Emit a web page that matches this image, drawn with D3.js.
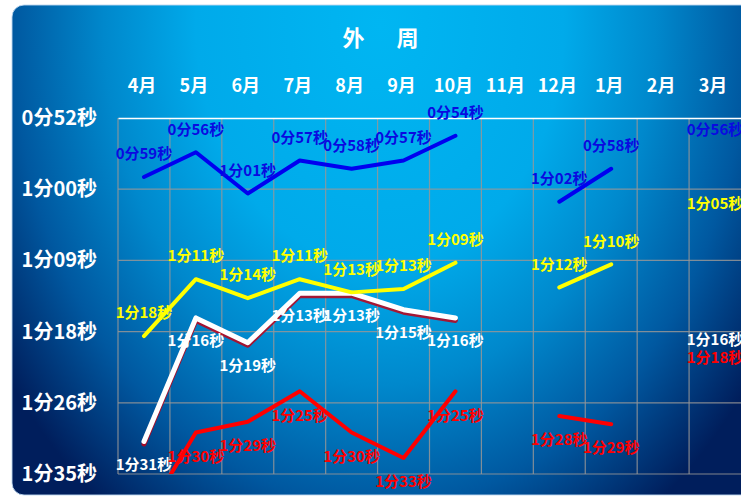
<!DOCTYPE html>
<html>
<head>
<meta charset="utf-8">
<script src="https://cdn.jsdelivr.net/npm/d3@7"></script>
<style>
html,body{margin:0;padding:0;background:#fff;}
svg{display:block;}
</style>
</head>
<body>
<svg id="chart" width="741" height="497"></svg>
<script>
// ---- data ----
const title = "外　周";
const months = ["4月","5月","6月","7月","8月","9月","10月","11月","12月","1月","2月","3月"];
// seconds per lap (null = no record)
const blueSeries   = [59, 56, 61, 57, 58, 57, 54, null, 62, 58, null, 56];
const yellowSeries = [78.3, 71.4, 73.7, 71.4, 73.0, 72.6, 69.4, null, 72.4, 69.6, null, 65];
const whiteSeries  = [91.1, 76.1, 79.1, 73.1, 73.1, 75.1, 76.1, null, null, null, null, 76];
const redSeries    = [100.5, 90.0, 88.7, 85.0, 90.0, 93.1, 85.0, null, 88.0, 89.0, null, 78];
// axis: 0.0006 .. 0.0011 day, step 0.0001 day (8.64 s)
const yMin = 51.84, yMax = 95.04, yStep = 8.64;
const yTicks = d3.range(0, 6).map(i => yMin + i * yStep);

// ---- helpers ----
const fmt = v => { const s = Math.round(v); return Math.floor(s/60) + "分" + String(s%60).padStart(2,"0") + "秒"; };

const svg = d3.select("#chart");
const plot = {x0: 118, x1: 741, y0: 118, y1: 474};

const defs = svg.append("defs");
const rg = defs.append("radialGradient").attr("id","bg")
  .attr("gradientUnits","userSpaceOnUse").attr("cx",0).attr("cy",0).attr("r",1)
  .attr("gradientTransform","translate(380,25) scale(460,600)");
[[0,"#00b6f2"],[0.4,"#00aaea"],[0.6,"#0088cc"],[0.8,"#0058a0"],[1,"#001e5c"]]
  .forEach(([o,c]) => rg.append("stop").attr("offset",o).attr("stop-color",c));
defs.append("clipPath").attr("id","plotclip").append("rect")
  .attr("x",plot.x0).attr("y",plot.y0).attr("width",plot.x1-plot.x0).attr("height",plot.y1-plot.y0);

// frame
svg.append("rect").attr("x",12).attr("y",5).attr("width",760).attr("height",490).attr("rx",12)
  .attr("fill","url(#bg)").attr("stroke","rgba(190,215,240,0.9)").attr("stroke-width",1);

// scales
const x = d3.scaleBand().domain(months).range([plot.x0, plot.x1]).padding(0);
const cx = m => x(m) + x.bandwidth()/2;
const y = d3.scaleLinear().domain([yMin, yMax]).range([plot.y0, plot.y1]);

const font = "'Noto Sans CJK SC','Noto Sans',sans-serif";

// grid
const gGrid = svg.append("g");
gGrid.selectAll("line.h").data(yTicks.slice(1)).join("line")
  .attr("x1",plot.x0).attr("x2",plot.x1).attr("y1",d=>y(d)).attr("y2",d=>y(d))
  .attr("stroke","rgba(150,150,150,0.85)").attr("stroke-width",1.2);
gGrid.selectAll("line.v").data(months).join("line")
  .attr("x1",d=>x(d)).attr("x2",d=>x(d)).attr("y1",plot.y0).attr("y2",plot.y1)
  .attr("stroke","rgba(150,150,150,0.85)").attr("stroke-width",1.2);

// category axis at top (value axis reversed)
const xAxis = svg.append("g").attr("transform",`translate(0,${plot.y0})`)
  .call(d3.axisTop(x).tickSize(0).tickPadding(0));
xAxis.select(".domain").attr("stroke","#ffffff").attr("stroke-width",1.5);
xAxis.selectAll(".tick text").attr("y",-32).attr("dy","0.35em").attr("dx",-2)
  .attr("fill","#fff").attr("font-family",font).attr("font-weight","bold").attr("font-size",18);

// value axis
const yAxis = svg.append("g").attr("transform",`translate(${plot.x0},0)`)
  .call(d3.axisLeft(y).tickValues(yTicks).tickFormat(fmt).tickSize(0).tickPadding(21));
yAxis.select(".domain").remove();
yAxis.selectAll(".tick text").attr("fill","#fff").attr("font-family",font)
  .attr("font-weight","bold").attr("font-size",20);

// title
svg.append("text").attr("x",383).attr("y",38).attr("dy","0.35em").attr("text-anchor","middle")
  .attr("fill","#fff").attr("font-family",font).attr("font-weight","bold").attr("font-size",22)
  .attr("letter-spacing",5).text(title);

// series
const series = [
  {name:"white", data:whiteSeries, color:"#ffffff", label:"#ffffff", w:5, dy:23, shadow:"#c00018"},
  {name:"red", data:redSeries, color:"#ff0000", label:"#ff0000", w:4, dy:24},
  {name:"blue", data:blueSeries, color:"#0000f0", label:"#0a0ae0", w:4, dy:-23},
  {name:"yellow", data:yellowSeries, color:"#ffff00", label:"#ffff00", w:4, dy:-23},
];
// a point is part of a drawn segment only if a neighbour exists (no markers on isolated points)
const linkable = (arr, i) => arr[i] != null && ((i > 0 && arr[i-1] != null) || (i < arr.length-1 && arr[i+1] != null));
const line = d3.line().defined(d => d.draw).x(d => cx(d.m)).y(d => y(d.v));
const gLines = svg.append("g").attr("clip-path","url(#plotclip)");
series.forEach(s => {
  const pts = months.map((m,i) => ({m, v: s.data[i], draw: linkable(s.data, i)}));
  if (s.shadow) {
    gLines.append("path").datum(pts).attr("d",line).attr("fill","none")
      .attr("stroke",s.shadow).attr("stroke-width",s.w).attr("stroke-linecap","round")
      .attr("stroke-linejoin","round").attr("transform","translate(0,2.5)").attr("opacity",0.85);
  }
  gLines.append("path").datum(pts).attr("d",line).attr("fill","none")
    .attr("stroke",s.color).attr("stroke-width",s.w).attr("stroke-linecap","round")
    .attr("stroke-linejoin","round");
});
// labels (points outside the axis range get none)
const gLabels = svg.append("g");
series.forEach(s => {
  const pts = months.map((m,i) => ({m, v: s.data[i]}))
    .filter(d => d.v != null && d.v >= yMin && d.v <= yMax);
  gLabels.selectAll(null).data(pts).join("text")
    .attr("x", d => cx(d.m)).attr("y", d => y(d.v) + s.dy).attr("dy","0.35em")
    .attr("text-anchor","middle").attr("fill", s.label)
    .attr("font-family",font).attr("font-weight","bold").attr("font-size",15)
    .text(d => fmt(d.v));
});
</script>
</body>
</html>
